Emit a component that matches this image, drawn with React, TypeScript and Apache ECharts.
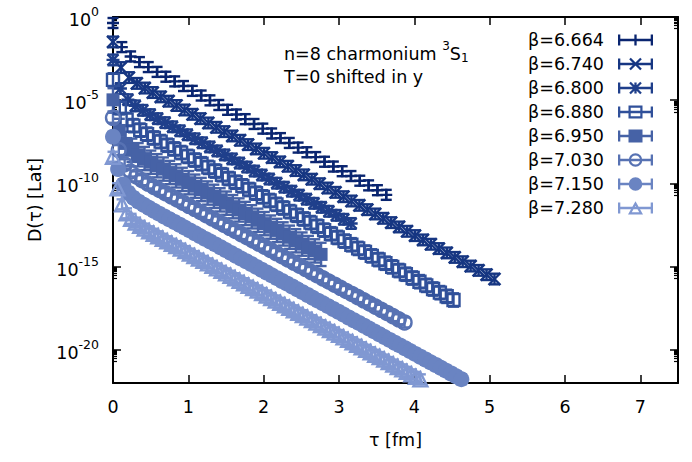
import { useEffect, useRef } from 'react';
import * as echarts from 'echarts';

const FONT = 'DejaVu Sans';

// Series names (beta values)
const betaLabels = ['β=6.664', 'β=6.740', 'β=6.800', 'β=6.880', 'β=6.950', 'β=7.030', 'β=7.150', 'β=7.280'];

// lattice spacing in fm (tau step between points of each series)
const latticeSpacing = [0.117, 0.1055, 0.0988, 0.0904, 0.0837, 0.0774, 0.068, 0.06];

// estimated half-length of the error bars, in decades
const errorDecades = [0.3, 0.32, 0.32, 0.4, 0.7, 0.3, 0.3, 0.3];

// log10 D(tau), one value per lattice time slice
const logD6664 = [-0.36, -1.81, -2.37, -2.71, -3.01, -3.30, -3.59, -3.87, -4.15, -4.44, -4.72, -5.01, -5.29, -5.58, -5.86, -6.14, -6.43, -6.71, -7.00, -7.28, -7.57, -7.85, -8.13, -8.42, -8.70, -8.99, -9.27, -9.56, -9.84, -10.12, -10.41, -10.69];
const logD6740 = [-1.50, -3.04, -3.64, -3.99, -4.27, -4.54, -4.80, -5.06, -5.32, -5.59, -5.85, -6.11, -6.37, -6.63, -6.89, -7.15, -7.41, -7.67, -7.93, -8.19, -8.45, -8.71, -8.97, -9.23, -9.49, -9.75, -10.02, -10.28, -10.54, -10.80, -11.06, -11.32, -11.58, -11.84, -12.10, -12.36, -12.62, -12.88, -13.14, -13.40, -13.66, -13.92, -14.18, -14.45, -14.71, -14.97, -15.23, -15.49, -15.75];
const logD6800 = [-2.58, -4.30, -4.97, -5.34, -5.61, -5.87, -6.11, -6.35, -6.60, -6.84, -7.08, -7.32, -7.56, -7.81, -8.05, -8.29, -8.53, -8.78, -9.02, -9.26, -9.50, -9.74, -9.99, -10.23, -10.47, -10.71, -10.95, -11.20, -11.44, -11.68, -11.92, -12.16, -12.41];
const logD6880 = [-3.78, -5.46, -6.16, -6.53, -6.80, -7.04, -7.27, -7.49, -7.71, -7.93, -8.15, -8.38, -8.60, -8.82, -9.04, -9.26, -9.48, -9.71, -9.93, -10.15, -10.37, -10.59, -10.81, -11.03, -11.26, -11.48, -11.70, -11.92, -12.14, -12.36, -12.58, -12.81, -13.03, -13.25, -13.47, -13.69, -13.91, -14.13, -14.36, -14.58, -14.80, -15.02, -15.24, -15.46, -15.69, -15.91, -16.13, -16.35, -16.57, -16.79, -17.01];
const logD6950 = [-4.98, -6.82, -7.60, -8.01, -8.28, -8.51, -8.73, -8.94, -9.14, -9.35, -9.55, -9.76, -9.96, -10.17, -10.37, -10.58, -10.78, -10.99, -11.19, -11.40, -11.60, -11.81, -12.01, -12.22, -12.42, -12.63, -12.83, -13.04, -13.24, -13.45, -13.65, -13.86, -14.06, -14.27];
const logD7030 = [-6.06, -8.00, -8.85, -9.29, -9.58, -9.81, -10.01, -10.21, -10.40, -10.59, -10.78, -10.97, -11.16, -11.35, -11.53, -11.72, -11.91, -12.10, -12.29, -12.48, -12.67, -12.86, -13.05, -13.24, -13.43, -13.62, -13.81, -14.00, -14.19, -14.38, -14.57, -14.76, -14.95, -15.14, -15.33, -15.52, -15.71, -15.90, -16.09, -16.28, -16.47, -16.65, -16.84, -17.03, -17.22, -17.41, -17.60, -17.79, -17.98, -18.17, -18.36];
const logD7150 = [-7.20, -9.14, -10.07, -10.56, -10.87, -11.10, -11.29, -11.47, -11.65, -11.82, -11.99, -12.16, -12.32, -12.49, -12.66, -12.83, -13.00, -13.17, -13.34, -13.50, -13.67, -13.84, -14.01, -14.18, -14.35, -14.52, -14.68, -14.85, -15.02, -15.19, -15.36, -15.53, -15.70, -15.87, -16.03, -16.20, -16.37, -16.54, -16.71, -16.88, -17.05, -17.21, -17.38, -17.55, -17.72, -17.89, -18.06, -18.23, -18.39, -18.56, -18.73, -18.90, -19.07, -19.24, -19.41, -19.58, -19.74, -19.91, -20.08, -20.25, -20.42, -20.59, -20.76, -20.92, -21.09, -21.26, -21.43, -21.60, -21.77];
const logD7280 = [-8.40, -10.29, -11.26, -11.80, -12.13, -12.36, -12.55, -12.72, -12.88, -13.03, -13.18, -13.33, -13.48, -13.63, -13.77, -13.92, -14.07, -14.22, -14.37, -14.52, -14.66, -14.81, -14.96, -15.11, -15.26, -15.41, -15.55, -15.70, -15.85, -16.00, -16.15, -16.29, -16.44, -16.59, -16.74, -16.89, -17.04, -17.18, -17.33, -17.48, -17.63, -17.78, -17.92, -18.07, -18.22, -18.37, -18.52, -18.67, -18.81, -18.96, -19.11, -19.26, -19.41, -19.55, -19.70, -19.85, -20.00, -20.15, -20.30, -20.44, -20.59, -20.74, -20.89, -21.04, -21.18, -21.33, -21.48, -21.63, -21.78];

const seriesLogD = [logD6664, logD6740, logD6800, logD6880, logD6950, logD7030, logD7150, logD7280];

// tick labels
const xTickLabels = ['0', '1', '2', '3', '4', '5', '6', '7'];
const yTickExponents = [0, -5, -10, -15, -20];
// log10(k), k = 2..9 : minor log ticks below every major decade
const minorLogOffsets = [0.301, 0.477, 0.602, 0.699, 0.778, 0.845, 0.903, 0.954];

const seriesColors = ['#0a2570', '#163682', '#1f3f8b', '#30509a', '#4662a6', '#5772b3', '#6a84c2', '#8098d2'];

// markers: +, x, *, open square, filled square, open circle, filled circle, open triangle
const markerSymbols = [
  'path://M5 0V10M0 5H10',
  'path://M0 0L10 10M10 0L0 10',
  'path://M5 0V10M0 5H10M0.8 0.8L9.2 9.2M9.2 0.8L0.8 9.2',
  'rect', 'rect', 'circle', 'circle', 'triangle',
];
const markerSizes = [12, 12, 13, 12, 13, 14, 16, 14];
const markerFilled = [false, false, false, false, true, false, true, false];

// legend icons (errorbar sample with marker), 35 x 14 box
const BAR = 'M0 5.85H35V8.15H0Z';
const CAPS = 'M0 1.5H2.3V12.5H0ZM32.7 1.5H35V12.5H32.7Z';
const GUARD = 'M17.5 0L17.5 0M17.5 14L17.5 14';
const P_PLUS = 'M16.35 1.5H18.65V12.5H16.35Z';
const P_X = 'M11.19 2.31L12.81 0.69L23.81 11.69L22.19 13.31ZM22.19 0.69L23.81 2.31L12.81 13.31L11.19 11.69Z';
const P_SQ = 'M10.5 0.5H24.5V13.5H10.5Z';
const P_SQ_HOLE = 'M12.7 2.7V11.3H22.3V2.7Z';
const P_CI = 'M10.7 7A6.8 6.8 0 1 1 24.3 7A6.8 6.8 0 1 1 10.7 7Z';
const P_CI_HOLE = 'M12.9 7A4.6 4.6 0 1 0 22.1 7A4.6 4.6 0 1 0 12.9 7Z';
const P_TR = 'M17.5 0.3L25 13.5H10Z';
const P_TR_HOLE = 'M17.5 4.76L13.78 11.3H21.22Z';
const legendMarkers = [P_PLUS, P_X, P_PLUS + P_X, P_SQ + P_SQ_HOLE, P_SQ, P_CI + P_CI_HOLE, P_CI, P_TR + P_TR_HOLE];

const LINE_W = 2.4;
const CAP_HALF = 5.5;

export default function App() {
  const ref = useRef<HTMLDivElement>(null);

  useEffect(() => {
    if (!ref.current) return;
    const chart = echarts.init(ref.current, null, { renderer: 'svg' });

    const minorTickValues = yTickExponents.flatMap((n) => minorLogOffsets.map((o) => n - 1 + o));
    const axisLineStyle = { show: true, onZero: false, lineStyle: { color: '#000', width: 2 } };

    const yBase = {
      type: 'value' as const,
      min: -22,
      max: 0,
      splitLine: { show: false },
    };

    const series: any[] = [];
    betaLabels.forEach((name, i) => {
      const color = seriesColors[i];
      const pts = seriesLogD[i].map((v, k) => [k * latticeSpacing[i], v, errorDecades[i]]);
      series.push({
        name,
        type: 'custom',
        xAxisIndex: 0,
        yAxisIndex: 0,
        data: pts,
        clip: false,
        silent: true,
        encode: { x: 0, y: 1 },
        renderItem: (_params: any, api: any) => {
          const x = api.value(0);
          const y = api.value(1);
          const e = api.value(2);
          const top = api.coord([x, y + e]);
          const bot = api.coord([x, y - e]);
          const st = { stroke: color, lineWidth: LINE_W, fill: null };
          return {
            type: 'group',
            children: [
              { type: 'line', shape: { x1: top[0], y1: top[1], x2: bot[0], y2: bot[1] }, style: st },
              { type: 'line', shape: { x1: top[0] - CAP_HALF, y1: top[1], x2: top[0] + CAP_HALF, y2: top[1] }, style: st },
              { type: 'line', shape: { x1: bot[0] - CAP_HALF, y1: bot[1], x2: bot[0] + CAP_HALF, y2: bot[1] }, style: st },
            ],
          };
        },
      });
      series.push({
        name,
        type: 'scatter',
        xAxisIndex: 0,
        yAxisIndex: 0,
        data: pts.map((p) => [p[0], p[1]]),
        symbol: markerSymbols[i],
        symbolSize: markerSizes[i],
        itemStyle: markerFilled[i]
          ? { color, opacity: 1 }
          : { color: 'none', borderColor: color, borderWidth: LINE_W, opacity: 1 },
        clip: false,
        silent: true,
        emphasis: { disabled: true },
      });
    });

    const option: any = {
      animation: false,
      backgroundColor: '#ffffff',
      grid: { left: 113, right: 14, top: 17, bottom: 79, containLabel: false, outerBoundsMode: 'none' },
      xAxis: [
        {
          type: 'value', position: 'bottom', min: 0, max: 7.5, interval: 1,
          axisLine: axisLineStyle,
          axisTick: { show: true, inside: true, length: 8, lineStyle: { color: '#000', width: 1.5 } },
          axisLabel: {
            color: '#000', fontFamily: FONT, fontSize: 17.5, margin: 15,
            formatter: (v: number) => xTickLabels[v] ?? '',
          },
          splitLine: { show: false },
          name: 'τ [fm]', nameLocation: 'middle', nameGap: 48,
          nameTextStyle: { color: '#000', fontFamily: FONT, fontSize: 17.5 },
        },
        {
          type: 'value', position: 'top', min: 0, max: 7.5, interval: 1,
          axisLine: axisLineStyle,
          axisTick: { show: true, inside: true, length: 8, lineStyle: { color: '#000', width: 1.5 } },
          axisLabel: { show: false },
          splitLine: { show: false },
        },
      ],
      yAxis: [
        {
          ...yBase, position: 'left',
          axisLine: axisLineStyle,
          axisTick: { show: true, inside: true, length: 8, customValues: yTickExponents, lineStyle: { color: '#000', width: 1.5 } },
          axisLabel: {
            customValues: yTickExponents,
            margin: 14,
            formatter: (v: number) => (yTickExponents.includes(v) ? `{b|10}{s|${v}}` : ''),
            rich: {
              b: { fontFamily: FONT, fontSize: 17.5, lineHeight: 24, color: '#000', verticalAlign: 'bottom' },
              s: { fontFamily: FONT, fontSize: 12.5, lineHeight: 13, color: '#000', verticalAlign: 'top' },
            },
          },
          name: 'D(τ) [Lat]', nameLocation: 'middle', nameGap: 69, nameRotate: 90,
          nameTextStyle: { color: '#000', fontFamily: FONT, fontSize: 17.5 },
        },
        {
          ...yBase, position: 'right',
          axisLine: axisLineStyle,
          axisTick: { show: true, inside: true, length: 8, customValues: yTickExponents, lineStyle: { color: '#000', width: 1.5 } },
          axisLabel: { show: false },
        },
        {
          ...yBase, position: 'left',
          axisLine: { show: false, onZero: false },
          axisTick: { show: true, inside: true, length: 4, customValues: minorTickValues, lineStyle: { color: '#000', width: 1.2 } },
          axisLabel: { show: false },
        },
        {
          ...yBase, position: 'right',
          axisLine: { show: false, onZero: false },
          axisTick: { show: true, inside: true, length: 4, customValues: minorTickValues, lineStyle: { color: '#000', width: 1.2 } },
          axisLabel: { show: false },
        },
      ],
      legend: {
        show: true,
        orient: 'vertical',
        right: 39,
        top: 28,
        padding: 0,
        align: 'right',
        itemWidth: 35,
        itemHeight: 14,
        itemGap: 0,
        selectedMode: false,
        textStyle: { color: '#000', fontFamily: FONT, fontSize: 17.5, lineHeight: 24, padding: [0, 9, 0, 0] },
        data: betaLabels.map((name, i) => ({
          name,
          icon: 'path://' + BAR + CAPS + GUARD + legendMarkers[i],
          itemStyle: { color: seriesColors[i], borderWidth: 0, borderColor: 'transparent', opacity: 1 },
        })),
      },
      graphic: [
        {
          type: 'text', x: 284, y: 54, silent: true,
          style: {
            text: 'n=8 charmonium {sup|3}S{sub|1}',
            fontFamily: FONT, fontSize: 17.5, fill: '#000', verticalAlign: 'middle', lineHeight: 28,
            rich: {
              sup: { fontFamily: FONT, fontSize: 12, lineHeight: 12, verticalAlign: 'top', fill: '#000' },
              sub: { fontFamily: FONT, fontSize: 12, lineHeight: 12, verticalAlign: 'middle', padding: [7, 0, 0, 0], fill: '#000' },
            },
          },
        },
        {
          type: 'text', x: 284, y: 77, silent: true,
          style: { text: 'T=0 shifted in y', fontFamily: FONT, fontSize: 17.5, fill: '#000', verticalAlign: 'middle' },
        },
      ],
      series,
    };

    chart.setOption(option);
    return () => chart.dispose();
  }, []);

  return (
    <div
      ref={ref}
      style={{ position: 'fixed', left: 0, top: 0, width: 692, height: 462, background: '#fff' }}
    />
  );
}
